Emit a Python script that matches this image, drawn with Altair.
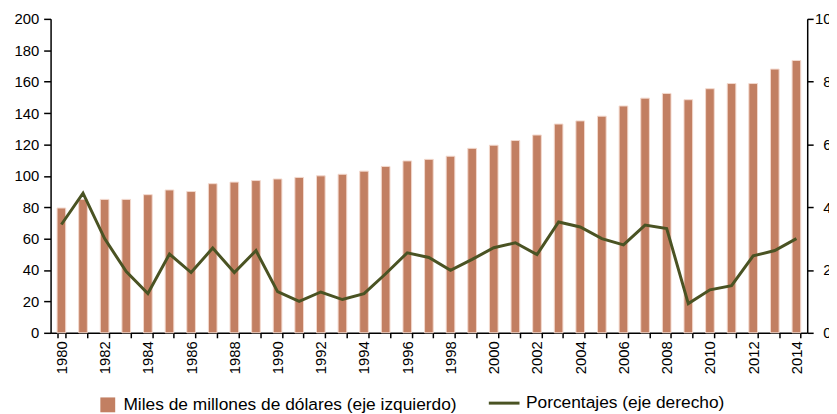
import altair as alt
import pandas as pd

years = list(range(1980, 2015))
billions = [79.5, 85, 85, 85, 88, 91, 90, 95, 96, 97, 98, 99, 100, 101, 103, 106, 109.5, 110.5, 112.5, 117.5, 119.5, 122.5, 126, 133, 135, 138, 144.5, 149.5, 152.5, 148.5, 155.5, 158.8, 158.8, 168, 173.5]
percents = [3.45, 4.45, 3.0, 1.95, 1.25, 2.51, 1.92, 2.70, 1.92, 2.62, 1.31, 1.0, 1.30, 1.06, 1.25, 1.88, 2.55, 2.40, 1.99, 2.34, 2.71, 2.87, 2.49, 3.53, 3.37, 3.0, 2.80, 3.43, 3.32, 0.93, 1.37, 1.50, 2.45, 2.62, 3.0]
left_ticks = list(range(0, 201, 20))
right_ticks = list(range(0, 11, 2))
bar_label = "Miles de millones de dólares (eje izquierdo)"
line_label = "Porcentajes (eje derecho)"

df = pd.DataFrame({"year": years, "value": billions, "pct": percents})
df["s1"] = bar_label
df["s2"] = line_label

BAR = "#c27f62"
LINE = "#4a5323"
FONT = "Liberation Sans"

x = alt.X(
    "year:O",
    scale=alt.Scale(paddingInner=0.6, paddingOuter=0.3),
    axis=alt.Axis(
        title=None,
        tickBand="extent",
        labelAngle=-90,
        labelExpr="datum.value % 2 == 0 ? datum.label : ''",
        tickSize=5,
        labelPadding=3,
    ),
)

bars = alt.Chart(df).mark_bar(stroke="#f3d9cd", strokeWidth=1).encode(
    x=x,
    y=alt.Y(
        "value:Q",
        scale=alt.Scale(domain=[0, 200], nice=False),
        axis=alt.Axis(title=None, values=left_ticks, grid=False, tickSize=7, labelPadding=5),
    ),
    color=alt.Color(
        "s1:N",
        scale=alt.Scale(domain=[bar_label], range=[BAR]),
        legend=alt.Legend(
            title=None, orient="none", legendX=49, legendY=381,
            symbolType="square", symbolSize=225, symbolStrokeWidth=0,
            labelOffset=7, padding=0,
        ),
    ),
)

line = alt.Chart(df).mark_line(strokeWidth=3).encode(
    x=x,
    y=alt.Y(
        "pct:Q",
        scale=alt.Scale(domain=[0, 10], nice=False),
        axis=alt.Axis(
            title=None, orient="right", values=right_ticks, grid=False,
            tickSize=6, labelAlign="right", labelPadding=18,
        ),
    ),
    stroke=alt.Stroke(
        "s2:N",
        scale=alt.Scale(domain=[line_label], range=[LINE]),
        legend=alt.Legend(
            title=None, orient="none", legendX=441, legendY=371,
            symbolType="stroke", symbolSize=961, symbolStrokeWidth=3,
            labelOffset=5, padding=0,
        ),
    ),
)

chart = (
    alt.layer(bars, line)
    .resolve_scale(y="independent", color="independent", stroke="independent")
    .properties(
        width=764,
        height=317,
        autosize=alt.AutoSizeParams(type="none"),
        padding={"left": 43, "top": 9, "right": 22, "bottom": 80},
    )
    .configure_view(stroke=None)
    .configure_axis(
        domainColor="black", domainWidth=1.5, tickColor="black", tickWidth=1.5,
        labelFont=FONT, labelFontSize=15, labelColor="black",
    )
    .configure_legend(labelFont=FONT, labelFontSize=17.5, labelColor="black", labelLimit=0)
)

chart.save("out.html", embed_options={"renderer": "svg", "actions": False})
